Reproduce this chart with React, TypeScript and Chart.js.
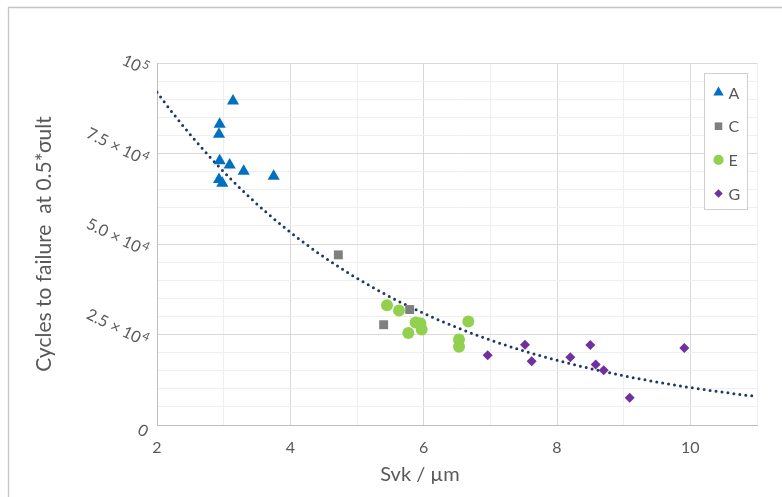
import React, { useEffect, useRef } from 'react';
import { Chart, registerables } from 'chart.js';
import { drawPoint } from 'chart.js/helpers';

Chart.register(...registerables);

// Svk (µm) and cycles to failure for each surface group
const svkA = [3.14, 2.94, 2.93, 2.94, 3.09, 3.3, 3.75, 2.93, 2.98];
const cyclesA = [89500, 83100, 80300, 73000, 71800, 70100, 68700, 67800, 66800];

const svkC = [4.72, 5.79, 5.4];
const cyclesC = [47000, 31900, 27700];

const svkE = [5.45, 5.63, 5.88, 5.95, 5.97, 5.77, 6.67, 6.53, 6.53];
const cyclesE = [33100, 31600, 28300, 28100, 26400, 25400, 28600, 23600, 21600];

const svkG = [6.96, 7.52, 7.62, 8.2, 8.5, 8.58, 8.7, 9.09, 9.91];
const cyclesG = [19300, 22200, 17600, 18700, 22100, 16700, 15100, 7500, 21300];

const seriesNames = ['A', 'C', 'E', 'G'];
const seriesX = [svkA, svkC, svkE, svkG];
const seriesY = [cyclesA, cyclesC, cyclesE, cyclesG];
const seriesColors = ['#0070C0', '#7F7F7F', '#92D050', '#7030A0'];
const seriesShapes = ['triangle', 'rect', 'circle', 'rectRot'];
const seriesRadius = [7, 6.3, 6, 5];

// Value-axis labels in scientific form: mantissa text plus a superscript exponent
const yLabelValues = [0, 25000, 50000, 75000, 100000];
const yLabelBase = ['0', '2.5 × 10', '5.0 × 10', '7.5 × 10', '10'];
const yLabelExp = ['', '4', '4', '4', '5'];

const xTitle = 'Svk / µm';
const yTitle = 'Cycles to failure  at 0.5*σult';

const TEXT = '#595959';
const FONT = 'Lato, "Open Sans", sans-serif';
const Y_LABEL_ANGLE = 26;

// Least-squares exponential trendline y = a·e^(b·x) over all points
function exponentialFit(xs: number[], ys: number[]) {
  const n = xs.length;
  const ly = ys.map((v) => Math.log(v));
  const mx = xs.reduce((s, v) => s + v, 0) / n;
  const my = ly.reduce((s, v) => s + v, 0) / n;
  let sxy = 0;
  let sxx = 0;
  for (let i = 0; i < n; i++) {
    sxy += (xs[i] - mx) * (ly[i] - my);
    sxx += (xs[i] - mx) * (xs[i] - mx);
  }
  const b = sxy / sxx;
  const a = Math.exp(my - b * mx);
  return { a, b };
}

const frame = {
  id: 'frame',
  beforeDraw(chart: any) {
    const { ctx, width, height } = chart;
    ctx.save();
    ctx.fillStyle = '#ffffff';
    ctx.fillRect(0, 0, width, height);
    ctx.strokeStyle = '#c4c4c4';
    ctx.lineWidth = 1.3;
    ctx.beginPath();
    ctx.moveTo(8.5, height + 2);
    ctx.lineTo(8.5, 7.5);
    ctx.lineTo(width + 2, 7.5);
    ctx.stroke();
    ctx.restore();
  },
};

// Slanted value labels on the left axis
const yAxisLabels = {
  id: 'yAxisLabels',
  afterDraw(chart: any) {
    const { ctx } = chart;
    const scale = chart.scales.y;
    const ang = (Y_LABEL_ANGLE * Math.PI) / 180;
    const baseFont = `16px ${FONT}`;
    const expFont = `12px ${FONT}`;
    ctx.save();
    ctx.fillStyle = TEXT;
    ctx.textBaseline = 'middle';
    ctx.textAlign = 'left';
    yLabelValues.forEach((v, i) => {
      const py = scale.getPixelForValue(v);
      ctx.font = baseFont;
      const wb = ctx.measureText(yLabelBase[i]).width;
      ctx.font = expFont;
      const we = yLabelExp[i] ? ctx.measureText(yLabelExp[i]).width + 1 : 0;
      ctx.save();
      ctx.translate(scale.right - 10, py + 8);
      ctx.rotate(ang);
      ctx.font = baseFont;
      ctx.fillText(yLabelBase[i], -(wb + we), 0);
      if (yLabelExp[i]) {
        ctx.font = expFont;
        ctx.fillText(yLabelExp[i], -we + 1, -5);
      }
      ctx.restore();
    });
    ctx.restore();
  },
};

// Horizontal axis title, placed a little left of the plot centre
const xAxisTitle = {
  id: 'xAxisTitle',
  afterDraw(chart: any) {
    const { ctx, chartArea } = chart;
    ctx.save();
    ctx.font = `20px ${FONT}`;
    ctx.fillStyle = TEXT;
    ctx.textAlign = 'center';
    ctx.textBaseline = 'middle';
    ctx.fillText(xTitle, chartArea.left + 263, chartArea.bottom + 50);
    ctx.restore();
  },
};

const insideLegend = {
  id: 'insideLegend',
  afterDatasetsDraw(chart: any) {
    const { ctx, chartArea } = chart;
    const bx = Math.round(chartArea.right - 53) + 0.5;
    const by = Math.round(chartArea.top + 10) + 0.5;
    const bw = 43;
    const bh = 136;
    ctx.save();
    ctx.fillStyle = '#ffffff';
    ctx.fillRect(bx, by, bw, bh);
    ctx.strokeStyle = '#d0d0d0';
    ctx.lineWidth = 1;
    ctx.strokeRect(bx, by, bw, bh);
    ctx.font = `16px ${FONT}`;
    ctx.textBaseline = 'middle';
    ctx.textAlign = 'left';
    seriesNames.forEach((name, i) => {
      const cy = by + 19 + i * 33.7;
      ctx.fillStyle = seriesColors[i];
      drawPoint(
        ctx,
        { pointStyle: seriesShapes[i], radius: seriesRadius[i] * 0.85, rotation: 0, borderWidth: 0 } as any,
        bx + 14,
        cy
      );
      ctx.fillStyle = TEXT;
      ctx.fillText(name, bx + 24, cy + 1);
    });
    ctx.restore();
  },
};

export default function App() {
  const canvasRef = useRef<HTMLCanvasElement | null>(null);

  useEffect(() => {
    const canvas = canvasRef.current;
    if (!canvas) return;

    const allX = ([] as number[]).concat(...seriesX);
    const allY = ([] as number[]).concat(...seriesY);
    const { a, b } = exponentialFit(allX, allY);
    const trend: { x: number; y: number }[] = [];
    for (let i = 0; i <= 90; i++) {
      const x = 2 + i * 0.1;
      trend.push({ x, y: a * Math.exp(b * x) });
    }

    const scatterSets = seriesNames.map((name, i) => ({
      type: 'scatter' as const,
      label: name,
      data: seriesX[i].map((x, j) => ({ x, y: seriesY[i][j] })),
      pointStyle: seriesShapes[i],
      pointRadius: seriesRadius[i],
      pointHoverRadius: seriesRadius[i],
      pointBackgroundColor: seriesColors[i],
      pointBorderWidth: 0,
      backgroundColor: seriesColors[i],
      borderColor: seriesColors[i],
      order: 0,
    }));

    const chart = new Chart(canvas, {
      type: 'scatter',
      data: {
        datasets: [
          ...scatterSets,
          {
            type: 'line',
            label: 'Expon. trend',
            data: trend,
            borderColor: '#203864',
            borderWidth: 3,
            borderDash: [0, 6],
            borderCapStyle: 'round',
            pointRadius: 0,
            pointHoverRadius: 0,
            fill: false,
            tension: 0,
            order: 1,
          } as any,
        ],
      },
      options: {
        responsive: false,
        animation: false,
        devicePixelRatio: 1,
        layout: { padding: { left: 0, top: 63, right: 25, bottom: 0 } },
        plugins: {
          legend: { display: false },
          tooltip: { enabled: false },
          title: { display: false },
        },
        scales: {
          x: {
            type: 'linear',
            min: 2,
            max: 11,
            afterFit: (scale: any) => {
              scale.height = 72;
            },
            ticks: {
              stepSize: 1,
              autoSkip: false,
              color: TEXT,
              font: { family: FONT, size: 16 },
              padding: 13,
              maxRotation: 0,
              callback: (v: any) => (Number(v) % 2 === 0 ? String(v) : ''),
            },
            grid: {
              drawTicks: false,
              color: (c: any) => (c.tick && c.tick.value % 2 === 0 ? '#d9d9d9' : '#efefef'),
            },
            border: { color: '#bfbfbf' },
            title: { display: false },
          },
          y: {
            type: 'linear',
            min: 0,
            max: 100000,
            afterFit: (scale: any) => {
              scale.width = 157;
            },
            ticks: {
              display: false,
              stepSize: 5000,
              autoSkip: false,
            },
            grid: {
              drawTicks: false,
              color: (c: any) => (c.tick && c.tick.value % 25000 === 0 ? '#d9d9d9' : '#efefef'),
            },
            border: { color: '#bfbfbf' },
            title: {
              display: true,
              text: yTitle,
              color: TEXT,
              font: { family: FONT, size: 21 },
              padding: { top: 32, bottom: 0 },
            },
          },
        },
      },
      plugins: [frame, insideLegend, xAxisTitle, yAxisLabels],
    } as any);

    return () => chart.destroy();
  }, []);

  return (
    <div style={{ position: 'absolute', left: 0, top: 0, width: 782, height: 497 }}>
      <canvas ref={canvasRef} width={782} height={497} />
    </div>
  );
}
